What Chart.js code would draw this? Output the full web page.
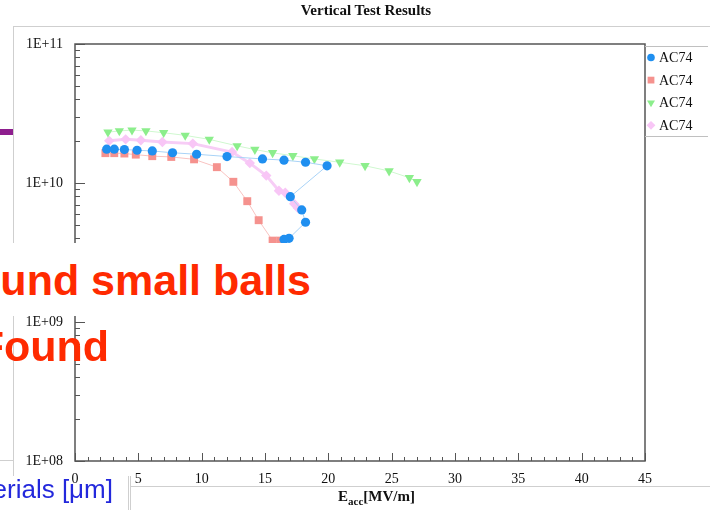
<!DOCTYPE html>
<html>
<head>
<meta charset="utf-8">
<script src="https://cdn.jsdelivr.net/npm/chart.js@4.4.0/dist/chart.umd.min.js"></script>
<style>
    body { margin: 0; width: 710px; height: 510px; overflow: hidden; position: relative; background: #fff; }
    #vt { position: absolute; left: 0; top: 0; }
    .ln { position: absolute; background: #cfcfcf; }
    .serif { position: absolute; font-family: "Liberation Serif", "Times New Roman", serif; color: #111; white-space: nowrap; }
    .red { position: absolute; font: bold 43px/43px "Liberation Sans", Arial, sans-serif; color: #ff2a00; white-space: nowrap; text-align: right; z-index: 3; }
</style>
</head>
<body>
<canvas id="vt" width="710" height="510"></canvas>

<div class="ln" style="left:13px;top:26px;width:697px;height:1px"></div>
<div class="ln" style="left:13px;top:26px;width:1px;height:450px"></div>
<div class="ln" style="left:0;top:460px;width:13px;height:1px"></div>
<div class="ln" style="left:130px;top:486px;width:580px;height:1px"></div>
<div class="ln" style="left:128px;top:476px;width:1px;height:34px"></div>
<div class="ln" style="left:130px;top:476px;width:1px;height:34px"></div>
<div style="position:absolute;left:0;top:129px;width:13px;height:6px;background:#8e1e8e"></div>

<div class="serif" style="left:0;width:732px;top:2px;text-align:center;font-weight:bold;font-size:15px">Vertical Test Results</div>
<div class="serif" style="left:338px;top:488px;font-weight:bold;font-size:15px">E<span style="font-size:11px;position:relative;top:4px">acc</span>[MV/m]</div>

<div style="position:absolute;left:0;top:243px;width:330px;height:73px;background:#fff;z-index:2"></div>
<div class="red" style="right:399px;top:259px">Found small balls</div>
<div class="red" style="right:601px;top:325px">Found</div>
<div style="position:absolute;right:597px;top:474px;font:26px/30px 'Liberation Sans',Arial,sans-serif;color:#2328dc;white-space:nowrap">Materials [μm]</div>

<script>
    // Q0 against accelerating gradient, four vertical test runs of AC74
    const runLabels = ['AC74', 'AC74', 'AC74', 'AC74'];

    const eaccRun1 = [2.5, 3.1, 3.9, 4.9, 6.1, 7.7, 9.6, 12.0, 14.8, 16.5, 18.2, 19.9, 17.0, 17.9, 18.2, 16.9, 16.5];
    const q0Run1 = [1.75e10, 1.75e10, 1.74e10, 1.72e10, 1.70e10, 1.65e10, 1.61e10, 1.55e10, 1.49e10, 1.46e10, 1.41e10, 1.33e10, 7.97e9, 6.40e9, 5.22e9, 4.00e9, 3.93e9];

    const eaccRun2 = [2.4, 3.1, 3.9, 4.8, 6.1, 7.6, 9.4, 11.2, 12.5, 13.6, 14.5, 15.6, 16.2];
    const q0Run2 = [1.64e10, 1.64e10, 1.63e10, 1.60e10, 1.56e10, 1.54e10, 1.48e10, 1.30e10, 1.02e10, 7.4e9, 5.4e9, 3.85e9, 3.85e9];

    const eaccRun3 = [2.6, 3.5, 4.5, 5.6, 7.0, 8.7, 10.6, 12.8, 14.2, 15.6, 17.2, 18.9, 20.9, 22.9, 24.8, 26.4, 27.0];
    const q0Run3 = [2.32e10, 2.37e10, 2.40e10, 2.37e10, 2.30e10, 2.20e10, 2.06e10, 1.85e10, 1.74e10, 1.65e10, 1.57e10, 1.49e10, 1.41e10, 1.33e10, 1.22e10, 1.09e10, 1.02e10];

    const eaccRun4 = [2.7, 4.0, 5.2, 6.9, 9.3, 12.4, 13.8, 15.1, 16.1, 16.6, 17.3, 17.6];
    const q0Run4 = [2.01e10, 2.06e10, 2.03e10, 1.97e10, 1.92e10, 1.67e10, 1.39e10, 1.13e10, 8.8e9, 8.5e9, 7.1e9, 6.6e9];

    const xTicks = [0, 5, 10, 15, 20, 25, 30, 35, 40, 45];
    const yDecades = [1e8, 1e9, 1e10, 1e11];

    function pairs(xs, ys) {
        return xs.map(function (v, i) { return { x: v, y: ys[i] }; });
    }

    const serif = '"Liberation Serif", "Times New Roman", serif';

    // inward tick marks and the box around the plot
    const frame = {
        id: 'frame',
        beforeDatasetsDraw(chart) {
            const ctx = chart.ctx;
            const a = chart.chartArea;
            const x = chart.scales.x;
            const y = chart.scales.y;
            ctx.save();
            ctx.strokeStyle = '#555';
            ctx.lineWidth = 1.5;
            ctx.strokeRect(a.left, a.top, a.right - a.left, a.bottom - a.top);
            ctx.lineWidth = 1;
            x.ticks.forEach(function (t) {
                const px = Math.round(x.getPixelForValue(t.value)) + 0.5;
                const len = xTicks.includes(t.value) ? 8 : 4;
                ctx.beginPath();
                ctx.moveTo(px, a.bottom);
                ctx.lineTo(px, a.bottom - len);
                ctx.stroke();
            });
            yDecades.forEach(function (d) {
                for (let k = 1; k < 10; k++) {
                    const py = Math.round(y.getPixelForValue(d * k)) + 0.5;
                    if (py < a.top - 1) continue;
                    ctx.beginPath();
                    ctx.moveTo(a.left, py);
                    ctx.lineTo(a.left + (k === 1 ? 10 : 5), py);
                    ctx.stroke();
                }
            });
            ctx.restore();
        }
    };

    // legend at the right with the run markers
    const sideLegend = {
        id: 'sideLegend',
        afterDraw(chart) {
            const ctx = chart.ctx;
            ctx.save();
            ctx.strokeStyle = '#c0c0c0';
            ctx.lineWidth = 1;
            ctx.beginPath();
            ctx.moveTo(645, 46.5); ctx.lineTo(708, 46.5);
            ctx.moveTo(645, 136.5); ctx.lineTo(708, 136.5);
            ctx.stroke();
            ctx.font = '14px ' + serif;
            ctx.textBaseline = 'middle';
            chart.data.datasets.forEach(function (ds, i) {
                const cy = 57.5 + i * 22.6;
                ctx.fillStyle = ds.pointBackgroundColor;
                ctx.strokeStyle = ds.pointBorderColor;
                Chart.helpers.drawPoint(ctx, {
                    pointStyle: ds.pointStyle,
                    radius: ds.pointRadius - 0.8,
                    rotation: ds.pointRotation || 0,
                    borderWidth: 0
                }, 651, cy);
                ctx.fillStyle = '#111';
                ctx.fillText(ds.label, 659, cy + 1);
            });
            ctx.restore();
        }
    };

    const data = {
        datasets: [{
            label: runLabels[0],
            data: pairs(eaccRun1, q0Run1),
            borderColor: '#a9d3f7',
            borderWidth: 1,
            pointStyle: 'circle',
            pointRadius: 4.6,
            pointBackgroundColor: '#1f8ff0',
            pointBorderColor: '#1f8ff0',
            pointBorderWidth: 0
        }, {
            label: runLabels[1],
            data: pairs(eaccRun2, q0Run2),
            borderColor: '#f9c3c1',
            borderWidth: 1,
            pointStyle: 'rect',
            pointRadius: 5.6,
            pointBackgroundColor: '#f5928e',
            pointBorderColor: '#f5928e',
            pointBorderWidth: 0
        }, {
            label: runLabels[2],
            data: pairs(eaccRun3, q0Run3),
            borderColor: '#cff8cf',
            borderWidth: 1,
            pointStyle: 'triangle',
            pointRotation: 180,
            pointRadius: 5.4,
            pointBackgroundColor: '#8cee8c',
            pointBorderColor: '#8cee8c',
            pointBorderWidth: 0
        }, {
            label: runLabels[3],
            data: pairs(eaccRun4, q0Run4),
            borderColor: '#f7cdf6',
            borderWidth: 3,
            pointStyle: 'rectRot',
            pointRadius: 5.2,
            pointBackgroundColor: '#f8c6f6',
            pointBorderColor: '#f8c6f6',
            pointBorderWidth: 0
        }]
    };

    const config = {
        type: 'scatter',
        data: data,
        options: {
            responsive: false,
            animation: false,
            showLine: true,
            layout: { padding: { left: 0, right: 65, top: 44, bottom: 0 } },
            plugins: {
                legend: { display: false },
                tooltip: { enabled: false }
            },
            scales: {
                x: {
                    type: 'linear',
                    min: 0,
                    max: 45,
                    grid: { display: false, drawTicks: false },
                    border: { display: false },
                    ticks: {
                        stepSize: 1,
                        autoSkip: false,
                        maxRotation: 0,
                        padding: 10,
                        color: '#111',
                        font: { family: serif, size: 14 },
                        callback: function (v) { return xTicks.includes(v) ? String(v) : ''; }
                    },
                    afterFit: function (scale) { scale.height = 49; }
                },
                y: {
                    type: 'logarithmic',
                    min: 1e8,
                    max: 1e11,
                    grid: { display: false, drawTicks: false },
                    border: { display: false },
                    ticks: {
                        autoSkip: false,
                        padding: 12,
                        color: '#111',
                        font: { family: serif, size: 14 },
                        callback: function (v) {
                            return yDecades.includes(v) ? '1E+' + String(Math.round(Math.log10(v))).padStart(2, '0') : '';
                        }
                    },
                    afterFit: function (scale) { scale.width = 75; }
                }
            }
        },
        plugins: [frame, sideLegend]
    };

    const vtChart = new Chart(document.getElementById('vt'), config);
</script>
</body>
</html>
